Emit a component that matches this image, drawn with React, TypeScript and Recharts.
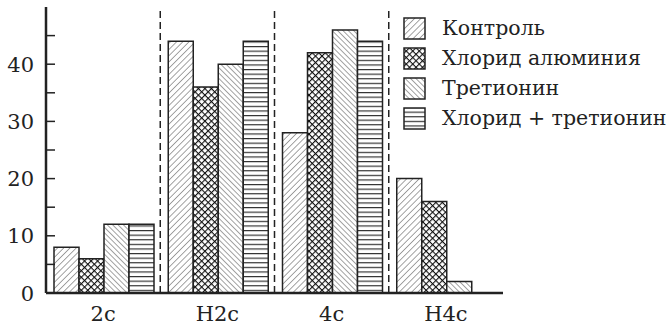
import React from 'react';
import { BarChart, Bar, XAxis, YAxis, ReferenceLine } from 'recharts';

const categories = ['2с', 'Н2с', '4с', 'Н4с'];
const control = [8, 44, 28, 20];
const aluminium = [6, 36, 42, 16];
const tretinoin = [12, 40, 46, 2];
const combined = [12, 44, 44, 0];
const yTicks = [0, 5, 10, 15, 20, 25, 30, 35, 40, 45];

const series = [
  { key: 'control', name: 'Контроль', pattern: 'pControl' },
  { key: 'aluminium', name: 'Хлорид алюминия', pattern: 'pCross' },
  { key: 'tretinoin', name: 'Третионин', pattern: 'pBack' },
  { key: 'combined', name: 'Хлорид + третионин', pattern: 'pHoriz' },
];

const data = categories.map((c, i) => ({
  cat: c,
  control: control[i],
  aluminium: aluminium[i],
  tretinoin: tretinoin[i],
  combined: combined[i] || null,
}));

// only DejaVu Serif resolves to a serif face in the sandbox
const FONT = "'DejaVu Serif'";

function Patterns({ prefix }: { prefix: string }) {
  return (
    <defs>
      <pattern id={prefix + 'pControl'} width="4.4" height="4.4" patternUnits="userSpaceOnUse" patternTransform="rotate(45)">
        <rect width="4.4" height="4.4" fill="#fff" />
        <line x1="0" y1="0" x2="0" y2="4.4" stroke="#333" strokeWidth="0.9" />
      </pattern>
      <pattern id={prefix + 'pBack'} width="3.8" height="3.8" patternUnits="userSpaceOnUse" patternTransform="rotate(-45)">
        <rect width="3.8" height="3.8" fill="#fff" />
        <line x1="0" y1="0" x2="0" y2="3.8" stroke="#333" strokeWidth="0.9" />
      </pattern>
      <pattern id={prefix + 'pHoriz'} width="4.6" height="4.6" patternUnits="userSpaceOnUse">
        <rect width="4.6" height="4.6" fill="#fff" />
        <line x1="0" y1="0.6" x2="4.6" y2="0.6" stroke="#222" strokeWidth="1.1" />
      </pattern>
      <pattern id={prefix + 'pCross'} width="4.6" height="4.6" patternUnits="userSpaceOnUse" patternTransform="rotate(45)">
        <rect width="4.6" height="4.6" fill="#fff" />
        <line x1="0" y1="0" x2="0" y2="4.6" stroke="#111" strokeWidth="2.2" />
        <line x1="0" y1="0" x2="4.6" y2="0" stroke="#111" strokeWidth="2.2" />
      </pattern>
    </defs>
  );
}

const YTick = (props: any) => {
  const { x, y, payload } = props;
  const v = payload.value;
  const major = v % 10 === 0;
  return (
    <g>
      {v !== 0 && <line x1={x} y1={y} x2={x + 9} y2={y} stroke="#222" strokeWidth={1.5} />}
      {major && (
        <text x={x - 12} y={y} dy="0.36em" textAnchor="end" fontSize={21} style={{ fontFamily: FONT }} fill="#222">
          {v}
        </text>
      )}
    </g>
  );
};

const ChartLegend = () => (
  <div style={{ position: 'absolute', left: 403, top: 13, fontSize: 20.5, color: '#222', fontFamily: FONT }}>
    <svg width={0} height={0} style={{ position: 'absolute' }}>
      <Patterns prefix="lg" />
    </svg>
    {series.map((s) => (
      <div key={s.key} style={{ display: 'flex', alignItems: 'center', height: 30 }}>
        <svg width={23} height={23} style={{ marginRight: 16 }}>
          <rect x={1} y={1} width={21} height={21} fill={`url(#lg${s.pattern})`} stroke="#222" strokeWidth={1.5} />
        </svg>
        <span style={{ whiteSpace: 'nowrap' }}>{s.name}</span>
      </div>
    ))}
  </div>
);

export default function App() {
  return (
    <div style={{ position: 'absolute', left: 0, top: 0, width: 672, height: 329, background: '#fff' }}>
      <BarChart
        width={672}
        height={329}
        data={data}
        margin={{ top: 7, right: 169, bottom: 6, left: 0 }}
        barCategoryGap={8}
        barGap={0}
      >
        <Patterns prefix="" />
        <XAxis
          dataKey="cat"
          tickLine={false}
          axisLine={{ stroke: '#222', strokeWidth: 2.5 }}
          tick={{ fontSize: 21, fill: '#222', style: { fontFamily: FONT } }}
          tickMargin={7}
          height={30}
        />
        <YAxis
          domain={[0, 50]}
          ticks={yTicks}
          interval={0}
          tickSize={0}
          tickMargin={0}
          width={46}
          axisLine={{ stroke: '#222', strokeWidth: 2.5 }}
          tick={<YTick />}
        />
        {series.map((s) => (
          <Bar
            key={s.key}
            dataKey={s.key}
            name={s.name}
            fill={`url(#${s.pattern})`}
            stroke="#222"
            strokeWidth={1.5}
            isAnimationActive={false}
          />
        ))}
        {categories.slice(1).map((c) => (
          <ReferenceLine key={c} x={c} position="start" stroke="#222" strokeWidth={1.5} strokeDasharray="7 4" />
        ))}
      </BarChart>
      <ChartLegend />
    </div>
  );
}
